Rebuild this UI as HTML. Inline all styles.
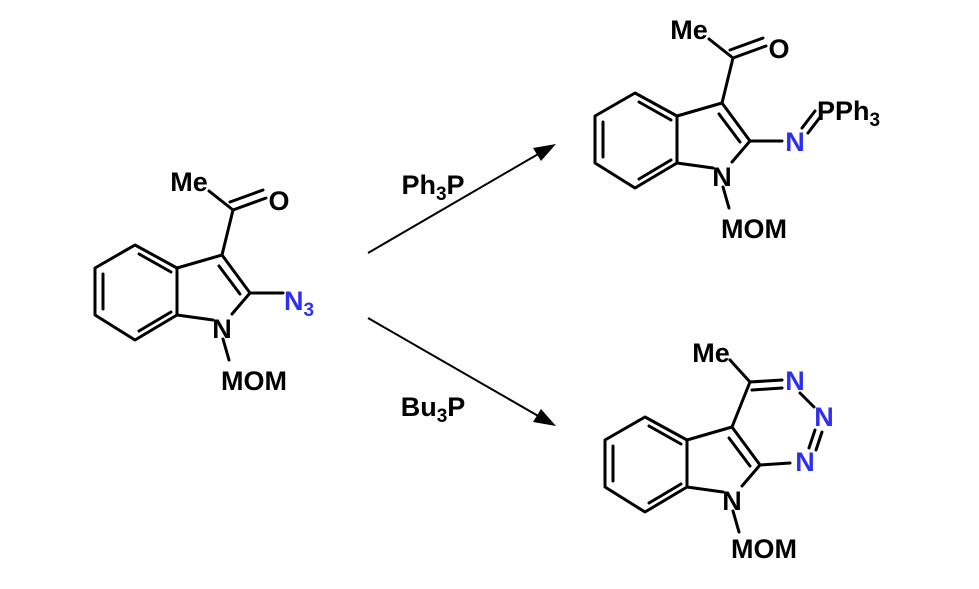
<!DOCTYPE html>
<html><head><meta charset="utf-8"><style>body{margin:0;background:#fff}svg{display:block}</style></head><body>
<svg width="979" height="589" viewBox="0 0 979 589" xmlns="http://www.w3.org/2000/svg">
<defs>
<g id="core" stroke="#000" stroke-width="3" fill="none" stroke-linecap="round" stroke-linejoin="round">
<path d="M135,245 L177,268 L177,315 L135,340 L95,315 L95,268 Z"/>
<path d="M139,254 L171,272 M103,274 L103,309 M139,331 L171,312"/>
<path d="M177,268 L222,255 L250,293 L232,314 M213,320 L177,315"/>
<path d="M219,266 L240,294"/>
<path d="M223,339 L229,360"/>
</g>
</defs>
<g font-family="Liberation Sans, Arial, sans-serif" font-weight="bold" font-size="27" text-anchor="middle">
<use href="#core"/>
<g stroke="#000" stroke-width="3" fill="none" stroke-linecap="round">
<path d="M222,255 L233,210 L266,198 M230,202 L263,190 M233,210 L209,191 M250,293 L283,293"/>
</g>
<text x="189" y="191">Me</text>
<text x="279" y="210">O</text>
<text x="222" y="338">N</text>
<text x="254" y="390">MOM</text>
<text x="299" y="310" fill="#2f2ff0">N<tspan font-size="19" dy="6">3</tspan></text>

<g transform="translate(500,-152)"><use href="#core"/></g>
<g stroke="#000" stroke-width="3" fill="none" stroke-linecap="round">
<path d="M722,103 L733,58 L766,46 M730,50 L763,38 M733,58 L709,39 M750,141 L782,141"/>
<path d="M802,128 L815,111 M808,133 L821,116"/>
</g>
<text x="689" y="39">Me</text>
<text x="779" y="58">O</text>
<text x="722" y="186">N</text>
<text x="754" y="238">MOM</text>
<text x="795" y="151" fill="#2f2ff0">N</text>
<text x="817" y="120" text-anchor="start">PPh<tspan font-size="19" dy="6">3</tspan></text>

<g transform="translate(510,172)"><use href="#core"/></g>
<g stroke="#000" stroke-width="3" fill="none" stroke-linecap="round">
<path d="M732,427 L750,382 L782,380 M752,390 L782,388 M750,382 L730,360 M760,465 L790,463"/>
<path d="M800,393 L814,407 M815,430 L809,448 M822,432 L816,450"/>
</g>
<text x="711" y="362">Me</text>
<text x="795" y="390" fill="#2f2ff0">N</text>
<text x="824" y="426" fill="#2f2ff0">N</text>
<text x="805" y="471" fill="#2f2ff0">N</text>
<text x="732" y="510">N</text>
<text x="764" y="558">MOM</text>

<g stroke="#000" stroke-width="2">
<line x1="368" y1="253" x2="540" y2="153"/>
<line x1="368" y1="318" x2="540" y2="417"/>
</g>
<polygon points="556,144 533,148 541,161" fill="#000"/>
<polygon points="556,426 541,409 533,422" fill="#000"/>
<text x="433" y="194">Ph<tspan font-size="19" dy="6">3</tspan><tspan dy="-6">P</tspan></text>
<text x="433" y="416">Bu<tspan font-size="19" dy="6">3</tspan><tspan dy="-6">P</tspan></text>
</g>
</svg>
</body></html>
